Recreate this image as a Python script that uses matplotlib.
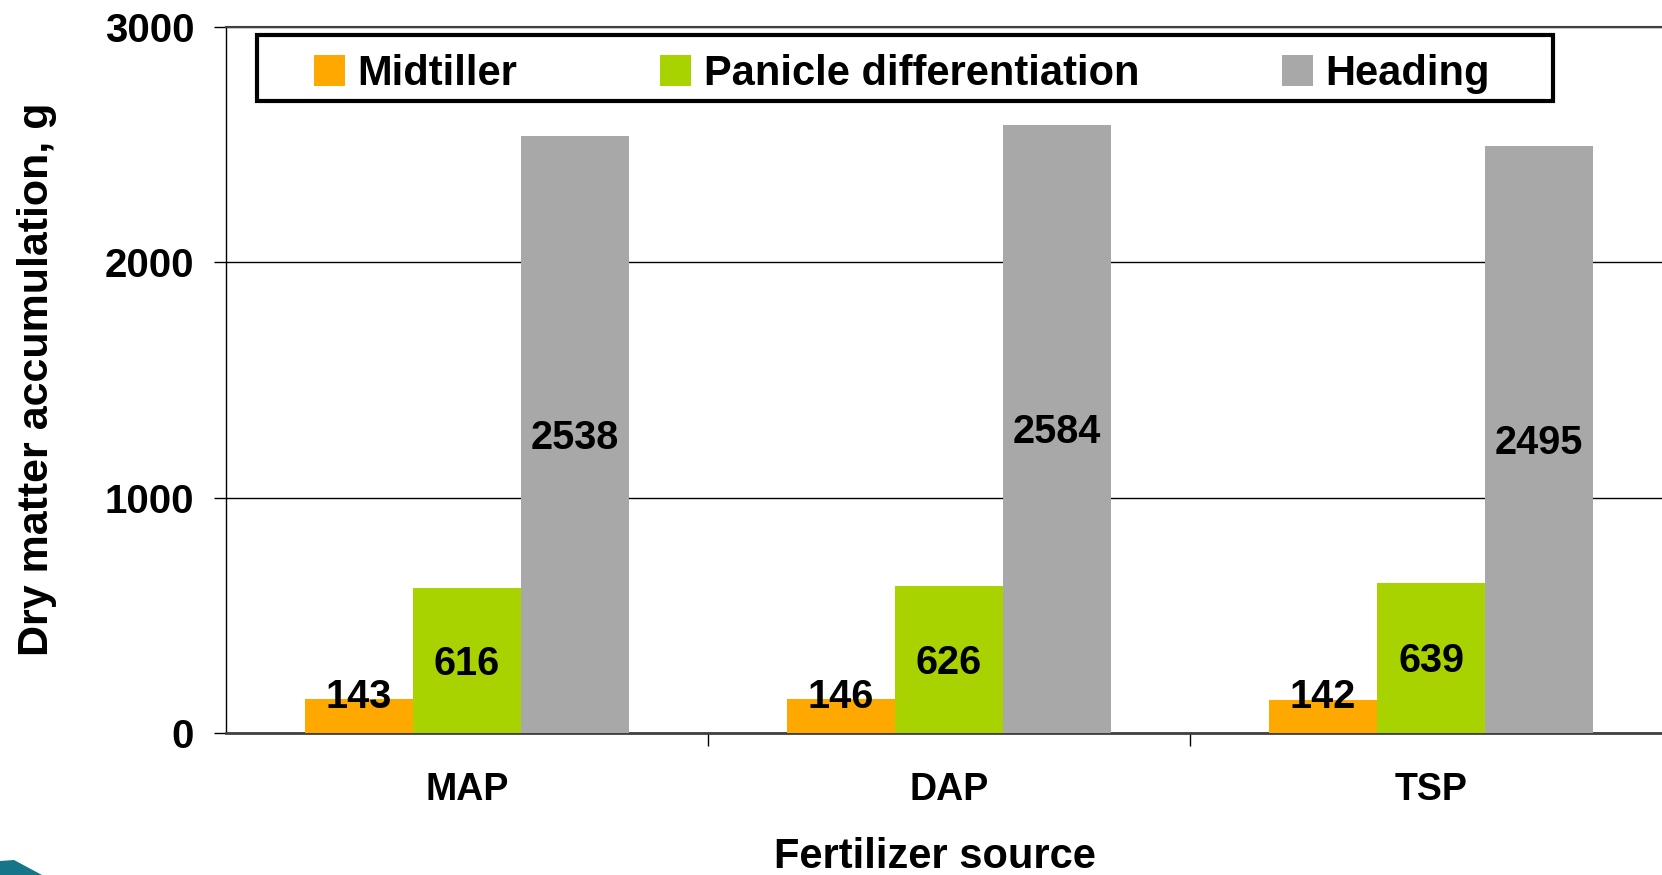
import numpy as np
import matplotlib
matplotlib.use("Agg")
import matplotlib.pyplot as plt
from matplotlib.patches import Rectangle, Polygon

plt.rcParams['font.family'] = ['Liberation Sans', 'DejaVu Sans']
plt.rcParams['font.weight'] = 'bold'

sources = ["MAP", "DAP", "TSP"]
stages = ["Midtiller", "Panicle differentiation", "Heading"]
midtiller = [143, 146, 142]
panicle = [616, 626, 639]
heading = [2538, 2584, 2495]
colors = ["#FFA800", "#A9D300", "#A8A8A8"]

W, H = 1662, 875
fig = plt.figure(figsize=(W / 100, H / 100), dpi=100)
# axes run a little past the right edge, as in the slide
ax = fig.add_axes([226 / W, (H - 733) / H, 1446 / W, 706 / H])

x = np.arange(len(sources))
bw = 0.224
series = [midtiller, panicle, heading]
for i, (vals, col, name) in enumerate(zip(series, colors, stages)):
    pos = x + (i - 1) * bw
    ax.bar(pos, vals, width=bw, color=col, label=name, zorder=3)
    for p, v in zip(pos, vals):
        # small bars get their label pushed up over the top
        ax.text(p, max(v / 2 - 15, 155), str(v), ha='center', va='center',
                fontsize=28.5, fontweight='bold', zorder=4)

ax.set_xlim(-0.5, 2.5)
ax.set_ylim(0, 3000)
ax.set_yticks([0, 1000, 2000, 3000])
ax.set_yticklabels(["0", "1000", "2000", "3000"])
ax.yaxis.grid(True, color='black', linewidth=1, zorder=0)

ax.set_xticks(x)
ax.set_xticklabels(sources)
ax.set_xticks([0.5, 1.5], minor=True)
ax.tick_params(axis='x', which='major', length=0, pad=28, labelsize=27)
ax.tick_params(axis='x', which='minor', length=9, width=1, direction='out')
ax.tick_params(axis='y', length=9, width=1, direction='out', pad=14, labelsize=29)

ax.spines['left'].set_color('black')
ax.spines['left'].set_linewidth(1)
ax.spines['bottom'].set_color('#404040')
ax.spines['bottom'].set_linewidth(2)
ax.spines['top'].set_color('#404040')
ax.spines['top'].set_linewidth(1.5)
ax.spines['right'].set_visible(False)

# legend without own frame, box drawn separately to match slide padding
leg = fig.legend(loc='lower left', ncol=3, mode='expand', frameon=False,
                 bbox_to_anchor=(314 / W, (H - 94) / H, (1490 - 314) / W, 52 / H),
                 fontsize=30, handlelength=0.75, handleheight=0.8,
                 handletextpad=0.3, borderpad=0, borderaxespad=0)
fig.patches.append(Rectangle((257 / W, (H - 101) / H), (1553 - 257) / W, 66 / H,
                             transform=fig.transFigure, fill=False,
                             edgecolor='black', linewidth=3))

fig.text(37 / W, (H - 379) / H, "Dry matter accumulation, g", rotation=90,
         ha='center', va='center', fontsize=31, fontweight='bold')
fig.text(935 / W, (H - 857) / H, "Fertilizer source", ha='center', va='center',
         fontsize=30, fontweight='bold')

# corner swoosh from the slide template
fig.patches.append(Polygon([(0, 0), (0, 14 / H), (14 / W, 15 / H), (42 / W, 0)],
                           closed=True, transform=fig.transFigure,
                           facecolor='#17758A', edgecolor='none'))

fig.savefig("out.png", dpi=100)
